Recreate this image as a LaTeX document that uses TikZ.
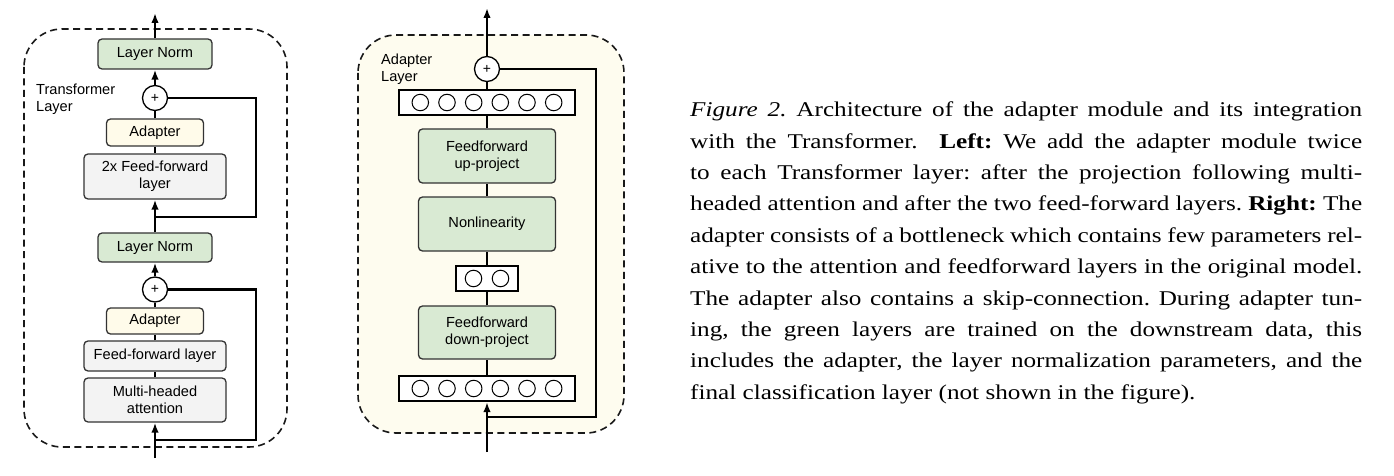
\documentclass[tikz,border=0pt]{standalone}
\usepackage{fontspec}
\usepackage{graphicx}
\setmainfont{Liberation Serif}
\newfontfamily\dsans{Liberation Sans}
\usetikzlibrary{arrows.meta}
\definecolor{lngreen}{HTML}{D9EAD3}
\definecolor{adcream}{HTML}{FFFBEA}
\definecolor{ffgray}{HTML}{F3F3F3}
\definecolor{boxcream}{HTML}{FEFCEF}
\definecolor{bordergray}{HTML}{333333}
\newcommand\capjl[1]{\makebox[560pt][s]{#1}\par}
\newcommand\capll[1]{\makebox[560pt][l]{#1}\par}
\tikzset{
  dfont/.style={font=\dsans\fontsize{14.6}{17}\selectfont},
  blk/.style={draw=bordergray, line width=1.3pt, rounded corners=4pt, dfont, align=center, inner sep=0pt},
  greenblk/.style={blk, fill=lngreen},
  adblk/.style={blk, fill=adcream},
  grayblk/.style={blk, fill=ffgray},
  plusnode/.style={circle, draw=black, line width=1.3pt, fill=white, minimum size=25pt, inner sep=0pt, font=\dsans\fontsize{14}{14}\selectfont},
  neurbox/.style={draw=black, line width=2.2pt, fill=white, inner sep=0pt},
  neuron/.style={circle, draw=black, line width=1pt, fill=white, minimum size=16.5pt, inner sep=0pt},
  conn/.style={draw=black, line width=2.4pt},
  arr/.style={conn, -{Latex[length=10pt,width=7.5pt]}},
  dashbox/.style={draw=black!90, line width=1.6pt, dash pattern=on 7pt off 4.5pt, rounded corners=38pt},
  lbl/.style={dfont, align=left, inner sep=0pt, anchor=north west},
}
\begin{document}
\begin{tikzpicture}[x=1pt, y=-1pt]
\useasboundingbox (0,0) rectangle (1394,476);
% ---------------- Left: Transformer layer ----------------
\draw[dashbox] (24,29) rectangle (287,447);
\node[lbl] (tl) at (36,84) {Transformer\\Layer};
\node[greenblk, minimum width=114pt, minimum height=30pt] (LN1) at (155,54) {Layer Norm};
\node[plusnode] (P1) at (155,98) {+};
\node[adblk, minimum width=97pt, minimum height=27pt] (AD1) at (155,132.5) {Adapter};
\node[grayblk, minimum width=142pt, minimum height=45pt] (FF2) at (155,176.5) {2x Feed-forward\\layer};
\node[greenblk, minimum width=114pt, minimum height=29pt] (LN2) at (155,247.5) {Layer Norm};
\node[plusnode] (P2) at (155,289.5) {+};
\node[adblk, minimum width=97pt, minimum height=26pt] (AD2) at (155,321) {Adapter};
\node[grayblk, minimum width=142pt, minimum height=30pt] (FF1) at (155,356) {Feed-forward layer};
\node[grayblk, minimum width=142pt, minimum height=44pt] (MHA) at (155,400) {Multi-headed\\attention};
\coordinate (out1) at (155,13);
\coordinate (in1) at (155,458);
\coordinate (k1) at (256,217);
\coordinate (j1) at (155,217);
\coordinate (k2) at (256,440);
\coordinate (j2) at (155,440);
\draw[arr] (in1) -- (MHA.south);
\draw[conn] (MHA) -- (FF1);
\draw[conn] (FF1) -- (AD2);
\draw[conn] (AD2) -- (P2);
\draw[arr] (P2) -- (LN2);
\draw[conn] (P2.east) -| (k2) -- (j2);
\draw[arr] (LN2) -- (FF2);
\draw[conn] (FF2) -- (AD1);
\draw[conn] (AD1) -- (P1);
\draw[arr] (P1) -- (LN1);
\draw[conn] (P1.east) -| (k1) -- (j1);
\draw[arr] (LN1) -- (out1);
% ---------------- Right: Adapter layer ----------------
\draw[dashbox, fill=boxcream] (358,35) rectangle (624,433);
\node[lbl] (al) at (381,54) {Adapter\\Layer};
\node[plusnode] (P3) at (487,69) {+};
\node[neurbox, minimum width=176pt, minimum height=25pt] (N1) at (487,102.5) {};
\node[greenblk, minimum width=137pt, minimum height=54pt] (UP) at (487,156) {Feedforward\\up-project};
\node[greenblk, minimum width=137pt, minimum height=54pt] (NL) at (487,224) {Nonlinearity};
\node[neurbox, minimum width=62pt, minimum height=25pt] (N2) at (487,278.5) {};
\node[greenblk, minimum width=137pt, minimum height=53pt] (DN) at (487,332.5) {Feedforward\\down-project};
\node[neurbox, minimum width=176pt, minimum height=25pt] (N3) at (487,388.5) {};
\foreach \i/\dx in {1/-66.7,2/-40,3/-13.3,4/13.3,5/40,6/66.7}{
  \node[neuron] (ua\i) at ([xshift=\dx pt]N1.center) {};
  \node[neuron] (da\i) at ([xshift=\dx pt]N3.center) {};
}
\node[neuron] (ba1) at ([xshift=-13.5pt]N2.center) {};
\node[neuron] (ba2) at ([xshift=13.5pt]N2.center) {};
\coordinate (out2) at (487,8);
\coordinate (in2) at (487,452);
\coordinate (k3) at (596,417);
\coordinate (j3) at (487,417);
\draw[arr] (in2) -- (N3.south);
\draw[conn] (N3) -- (DN);
\draw[conn] (DN) -- (N2);
\draw[conn] (N2) -- (NL);
\draw[conn] (NL) -- (UP);
\draw[conn] (UP) -- (N1);
\draw[conn] (N1) -- (P3);
\draw[conn] (P3.east) -| (k3) -- (j3);
\draw[arr] (P3) -- (out2);
% ---------------- Caption ----------------
\node[anchor=base west, inner sep=0pt] (cap) at (690,116.7) {\scalebox{1.2}[1]{\begin{minipage}[t]{560pt}\fontsize{21}{31.4}\selectfont\frenchspacing\setlength\baselineskip{31.4pt}%
\capjl{\textit{Figure 2.} Architecture of the adapter module and its integration}%
\capjl{with the Transformer.\ \ \textbf{Left:} We add the adapter module twice}%
\capjl{to each Transformer layer: after the projection following multi-}%
\capjl{headed attention and after the two feed-forward layers. \textbf{Right:} The}%
\capjl{adapter consists of a bottleneck which contains few parameters rel-}%
\capjl{ative to the attention and feedforward layers in the original model.}%
\capjl{The adapter also contains a skip-connection. During adapter tun-}%
\capjl{ing, the green layers are trained on the downstream data, this}%
\capjl{includes the adapter, the layer normalization parameters, and the}%
\capll{final classification layer (not shown in the figure).}%
\end{minipage}}};
\end{tikzpicture}
\end{document}
